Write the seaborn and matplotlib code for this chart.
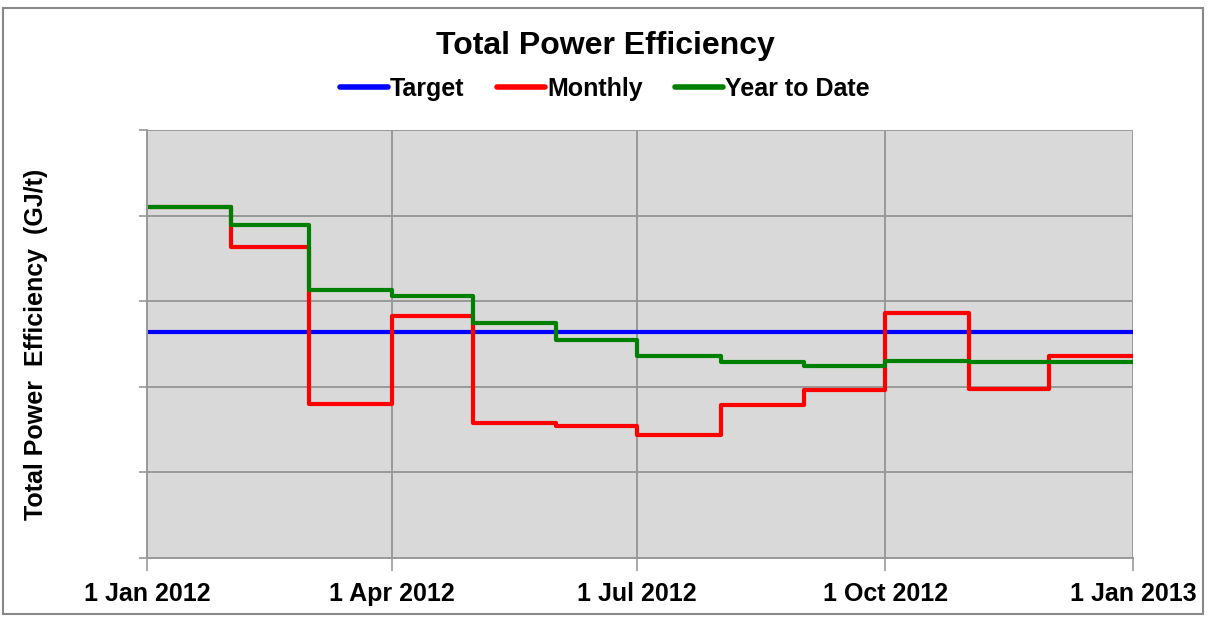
#!/usr/bin/env python3
"""Total Power Efficiency: monthly vs year-to-date vs target, 2012."""
import matplotlib
matplotlib.use("Agg")
import matplotlib.pyplot as plt
from matplotlib.patches import Rectangle
import pandas as pd
import seaborn as sns

# --- data (GJ/t; axis has no value labels) ---
months = pd.date_range("2012-01-01", periods=12, freq="MS")
end_date = pd.Timestamp("2013-01-01")
target = [2.64] * 12
monthly = [4.10, 3.63, 1.80, 2.83, 1.58, 1.54, 1.44, 1.79, 1.96, 2.86, 1.97, 2.36]
year_to_date = [4.10, 3.89, 3.13, 3.06, 2.75, 2.55, 2.36, 2.29, 2.24, 2.30, 2.29, 2.29]
x_ticks = pd.to_datetime(["2012-01-01", "2012-04-01", "2012-07-01", "2012-10-01", "2013-01-01"])
x_ticklabels = ["1 Jan 2012", "1 Apr 2012", "1 Jul 2012", "1 Oct 2012", "1 Jan 2013"]

series = {"Target": target, "Monthly": monthly, "Year to Date": year_to_date}
palette = {"Target": "#0000ff", "Monthly": "#ff0000", "Year to Date": "#008000"}

# long form, with the last month held until the end date for the step drawing
frames = []
for name, vals in series.items():
    dates = list(months) + [end_date]
    frames.append(pd.DataFrame({"date": dates, "value": list(vals) + [vals[-1]], "series": name}))
df = pd.concat(frames, ignore_index=True)

sns.set_style("whitegrid")
plt.rcParams["font.family"] = ["Liberation Sans", "DejaVu Sans"]
plt.rcParams["font.weight"] = "bold"
plt.rcParams["text.color"] = "black"
plt.rcParams["axes.labelcolor"] = "black"
plt.rcParams["xtick.color"] = "black"

fig = plt.figure(figsize=(12.08, 6.19), dpi=100)
ax = fig.add_axes([147 / 1208, 1 - 558 / 619, (1133 - 147) / 1208, (558 - 130) / 619])

sns.lineplot(
    data=df, x="date", y="value", hue="series", palette=palette,
    hue_order=list(series.keys()), drawstyle="steps-post",
    linewidth=3, ax=ax, legend=True,
)

ax.set_facecolor("#d9d9d9")
ax.set_xlim(months[0], end_date)
ax.set_ylim(0, 5)
ax.set_yticks(range(0, 6))
ax.set_yticklabels([])
ax.set_xticks(x_ticks)
ax.set_xticklabels(x_ticklabels, fontsize=18, fontweight="bold", color="black")
ax.grid(True, color="#999999", linewidth=1.4)
ax.tick_params(axis="x", bottom=True, length=9, width=1.2, color="#999999", pad=8)
ax.tick_params(axis="y", left=True, length=6, width=1.2, color="#999999")
ax.set_xlabel("")
ax.set_ylabel("Total Power  Efficiency  (GJ/t)", fontsize=18, fontweight="bold",
              color="black", labelpad=62)
for side in ["top", "right"]:
    ax.spines[side].set_visible(False)
for side in ["left", "bottom"]:
    ax.spines[side].set_color("#999999")
    ax.spines[side].set_linewidth(1.4)

handles, labels = ax.get_legend_handles_labels()
ax.legend_.remove()
leg = fig.legend(
    handles, labels, loc="center", bbox_to_anchor=(605 / 1208, 1 - 89 / 619),
    ncol=3, frameon=False, handlelength=1.9, handletextpad=0.1,
    columnspacing=1.3, prop={"weight": "bold", "size": 18},
)
for line in leg.get_lines():
    line.set_linewidth(4)

fig.text(605 / 1208, 1 - 46 / 619, "Total Power Efficiency", ha="center", va="center",
         fontsize=23, fontweight="bold", color="black")

fig.patches.append(Rectangle((3 / 1208, 5 / 619), 1200 / 1208, 606 / 619,
                             transform=fig.transFigure, fill=False,
                             edgecolor="#888888", linewidth=1.5))

fig.savefig("out.png", dpi=100)
